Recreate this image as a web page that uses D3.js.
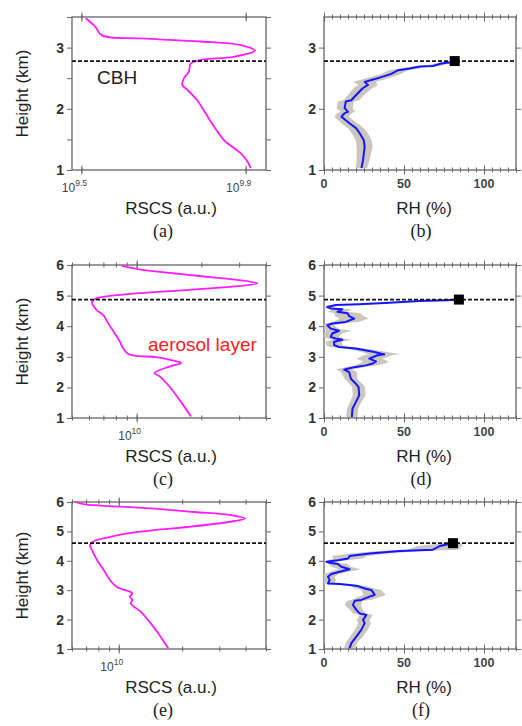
<!DOCTYPE html>
<html>
<head>
<meta charset="utf-8">
<script src="https://cdn.jsdelivr.net/npm/d3@7"></script>
<style>
  body { margin: 0; background: #fff; }
  svg { display: block; font-family: "Liberation Sans", Arial, sans-serif; }
  .lab { font-size: 17px; fill: #222; }
  .tick-y { font-size: 14px; font-weight: bold; fill: #333; }
  .tick-x { font-size: 12.5px; font-weight: bold; fill: #444; }
  .pow { font-size: 12px; fill: #444; }
  .letter { font-family: "Liberation Serif", "Times New Roman", serif; font-size: 18px; fill: #222; }
</style>
</head>
<body>
<svg width="522" height="726"></svg>
<script>
const svg = d3.select('svg');

// ---- data ----
// RSCS profiles (height km, range scaled clear sky signal a.u.)
const heightA = [3.48, 3.34, 3.20, 3.15, 3.10, 3.04, 2.95, 2.85, 2.80, 2.74, 2.61, 2.50, 2.39, 2.31, 2.14, 1.93, 1.71, 1.49, 1.27, 1.14, 1.03];
const rscsA = [3.24e9, 3.42e9, 3.55e9, 4.41e9, 6.17e9, 7.73e9, 8.36e9, 7.43e9, 6.17e9, 5.83e9, 5.78e9, 5.62e9, 5.57e9, 5.73e9, 6.05e9, 6.34e9, 6.65e9, 7.03e9, 7.73e9, 8.02e9, 8.17e9];

const heightC = [5.97, 5.86, 5.73, 5.64, 5.53, 5.40, 5.29, 5.18, 5.08, 4.99, 4.91, 4.80, 4.53, 4.37, 4.10, 3.77, 3.50, 3.28, 3.10, 3.03, 2.99, 2.88, 2.80, 2.68, 2.47, 2.36, 2.03, 1.60, 1.05];
const rscsC = [8.5e9, 1.03e10, 1.47e10, 1.96e10, 2.79e10, 3.64e10, 2.79e10, 1.70e10, 1.03e10, 7.5e9, 6.5e9, 6.2e9, 6.5e9, 6.98e9, 7.36e9, 7.9e9, 8.35e9, 8.64e9, 9.1e9, 9.96e9, 1.23e10, 1.47e10, 1.61e10, 1.42e10, 1.21e10, 1.28e10, 1.42e10, 1.58e10, 1.79e10];

const heightE = [6.00, 5.92, 5.88, 5.78, 5.66, 5.55, 5.44, 5.32, 5.15, 5.04, 4.93, 4.79, 4.68, 4.53, 4.42, 4.02, 3.68, 3.34, 3.11, 3.03, 2.98, 2.89, 2.78, 2.66, 2.55, 2.27, 1.87, 1.42, 1.02];
const rscsE = [6.2e9, 6.9e9, 8.2e9, 1.42e10, 2.29e10, 3.43e10, 3.98e10, 3.31e10, 2.13e10, 1.47e10, 1.10e10, 8.8e9, 7.7e9, 7.3e9, 7.4e9, 7.9e9, 8.5e9, 9.1e9, 9.8e9, 1.04e10, 1.10e10, 1.16e10, 1.13e10, 1.16e10, 1.14e10, 1.27e10, 1.42e10, 1.58e10, 1.72e10];

// RH profiles (height km, RH %, half width of the grey band %)
const heightB = [1.03, 1.16, 1.38, 1.49, 1.60, 1.68, 1.76, 1.87, 1.93, 1.95, 2.01, 2.12, 2.14, 2.23, 2.34, 2.39, 2.44, 2.47, 2.51, 2.57, 2.63, 2.66, 2.69, 2.70, 2.74, 2.77];
const rhB = [23.4, 24.4, 25.4, 24.8, 22.3, 20.2, 16.1, 10.9, 12.9, 15.0, 12.9, 13.6, 17.1, 20.2, 24.4, 27.5, 25.4, 29.6, 34.8, 42.1, 46.3, 53.6, 59.8, 68.1, 73.3, 81.7];
const spreadB = [3.5, 4, 5, 5, 5, 5, 5, 4.5, 4.5, 4.5, 5, 5, 5, 5, 6, 6, 7, 7, 7, 6, 6, 6, 5, 5, 4, 2];

const heightD = [1.03, 1.30, 1.52, 1.74, 2.01, 2.12, 2.28, 2.50, 2.58, 2.61, 2.67, 2.72, 2.78, 2.85, 2.94, 3.05, 3.08, 3.16, 3.27, 3.32, 3.38, 3.49, 3.56, 3.60, 3.65, 3.76, 3.85, 3.92, 4.03, 4.09, 4.14, 4.25, 4.33, 4.42, 4.47, 4.55, 4.58, 4.63, 4.69, 4.72, 4.77, 4.82, 4.85, 4.87];
const rhD = [17.4, 17.8, 19.9, 22.0, 21.6, 19.9, 16.8, 15.7, 12.6, 14.7, 19.9, 26.2, 30.4, 32.5, 28.3, 33.5, 37.7, 31.4, 19.9, 9.4, 6.3, 6.3, 11.5, 7.3, 4.2, 5.2, 9.4, 4.2, 2.1, 5.2, 13.6, 18.9, 15.7, 14.7, 8.4, 11.5, 4.2, 2.1, 7.3, 22.0, 40.9, 59.7, 76.5, 84.3];
const spreadD = [3.5, 3.5, 3.5, 4, 4, 4, 4, 5, 5, 5, 6, 7, 8, 8, 8, 9, 10, 8, 6, 6, 5, 5, 6, 5, 5, 6, 8, 5, 4, 6, 8, 9, 9, 8, 6, 6, 4, 3, 5, 6, 6, 5, 4, 2];

const heightF = [1.03, 1.20, 1.42, 1.65, 1.88, 1.99, 2.16, 2.21, 2.33, 2.50, 2.64, 2.67, 2.78, 2.84, 3.01, 3.06, 3.14, 3.18, 3.21, 3.23, 3.34, 3.46, 3.55, 3.63, 3.71, 3.80, 3.89, 3.93, 3.97, 4.02, 4.08, 4.16, 4.25, 4.33, 4.38, 4.50, 4.56, 4.62];
const rhF = [16.0, 17.1, 20.2, 23.3, 25.4, 24.4, 26.5, 22.3, 20.2, 18.1, 19.2, 23.3, 28.5, 31.7, 29.6, 25.4, 21.3, 16.0, 9.8, 2.5, 3.5, 2.5, 4.6, 9.8, 16.0, 10.8, 8.75, 3.5, 1.5, 8.75, 15.0, 16.0, 28.5, 47.3, 68.1, 72.3, 77.5, 80.6];
const spreadF = [3.5, 3.5, 4, 4, 4, 4, 4, 4, 4, 5, 5, 6, 7, 7, 6, 6, 5, 5, 5, 4, 4, 4, 5, 6, 7, 6, 6, 5, 4, 6, 9, 11, 12, 14, 16, 14, 9, 4];

// cloud base height (km) and RH at cloud base for each case
const cbh = [2.78, 4.87, 4.60];
const rhCbh = [81.7, 84.3, 80.6];

// axis set-up per row
const heightMax = [3.5, 6, 6];
const rscsDomain = [[3.0e9, 8.9e9], [5e9, 4e10], [6e9, 5e10]];
const rscsLabels = [[Math.pow(10, 9.5), Math.pow(10, 9.9)], [1e10], [1e10]];
const rscsPowers = [['9.5', '9.9'], ['10'], ['10']];
const letters = [['(a)', '(b)'], ['(c)', '(d)'], ['(e)', '(f)']];

// pixel layout of the rows
const rowTop = [17, 265, 502];
const rowBottom = [170, 418, 649];
const leftX = [72, 266];
const rightX = [324, 516];

const axisColor = '#666';

const styleAxis = (sel) => {
    sel.select('.domain').remove();
    sel.selectAll('line').attr('stroke', axisColor).attr('stroke-width', 1);
    sel.selectAll('text').remove();
}

// box + ticks on all four sides
const drawFrame = (g, x, y, xTicks, xMajor, yTicks) => {
    const [x0, x1] = x.range();
    const [y0, y1] = y.range();
    // minor ticks cross the top / bottom line
    [1, -1].forEach(s => {
        g.append('g').attr('transform', `translate(0,${y0})`)
            .call(d3.axisBottom(x).tickValues(xTicks).tickSize(2.5 * s)).call(styleAxis);
        g.append('g').attr('transform', `translate(0,${y1})`)
            .call(d3.axisTop(x).tickValues(xTicks).tickSize(2.5 * s)).call(styleAxis);
        g.append('g').attr('transform', `translate(0,${y0})`)
            .call(d3.axisBottom(x).tickValues(xMajor).tickSize(4.5 * s)).call(styleAxis);
        g.append('g').attr('transform', `translate(0,${y1})`)
            .call(d3.axisTop(x).tickValues(xMajor).tickSize(4.5 * s)).call(styleAxis);
    });
    g.append('g').attr('transform', `translate(${x0},0)`)
        .call(d3.axisLeft(y).tickValues(yTicks).tickSize(5)).call(styleAxis);
    g.append('g').attr('transform', `translate(${x1},0)`)
        .call(d3.axisRight(y).tickValues(yTicks).tickSize(5)).call(styleAxis);
    g.append('rect')
        .attr('x', x0).attr('y', y1)
        .attr('width', x1 - x0).attr('height', y0 - y1)
        .attr('fill', 'none').attr('stroke', axisColor).attr('stroke-width', 1.3);
}

const yLabels = (g, x0, y, hMax) => {
    d3.range(1, hMax + 0.01).forEach(v => {
        g.append('text').attr('class', 'tick-y')
            .attr('x', x0 - 8).attr('y', y(v) + 5)
            .attr('text-anchor', 'end').text(v);
    });
}

const cbhLine = (g, x, yPos) => {
    g.append('line')
        .attr('x1', x.range()[0]).attr('x2', x.range()[1])
        .attr('y1', yPos).attr('y2', yPos)
        .attr('stroke', '#111').attr('stroke-width', 1.8)
        .attr('stroke-dasharray', '4,2');
}

// left column: RSCS profiles
const drawRscs = (row, heights, values) => {
    const g = svg.append('g');
    const y = d3.scaleLinear().domain([1, heightMax[row]]).range([rowBottom[row], rowTop[row]]);
    const x = d3.scaleLog().domain(rscsDomain[row]).range(leftX);

    let minor = [];
    if (row == 0) {
        minor = rscsLabels[row];
    } else {
        [1e9, 1e10].forEach(dec => d3.range(1, 10).forEach(m => {
            const v = m * dec;
            if (v >= rscsDomain[row][0] && v <= rscsDomain[row][1]) minor.push(v);
        }));
    }
    const yTicks = row == 0 ? [1, 1.5, 2, 2.5, 3, 3.5] : d3.range(1, heightMax[row] + 0.01);
    drawFrame(g, x, y, minor, rscsLabels[row], yTicks);
    yLabels(g, leftX[0], y, heightMax[row]);

    // 10^n tick labels
    rscsLabels[row].forEach((v, i) => {
        const t = g.append('text').attr('class', 'pow')
            .attr('x', x(v) - 7).attr('y', rowBottom[row] + 22)
            .attr('text-anchor', 'middle');
        t.append('tspan').text('10');
        t.append('tspan').attr('dy', -6).attr('font-size', 8.5).text(rscsPowers[row][i]);
    });

    const line = d3.line()
        .x((d, i) => x(values[i]))
        .y(d => y(d))
        .curve(d3.curveCatmullRom.alpha(0.5));
    g.append('path')
        .attr('d', line(heights))
        .attr('fill', 'none')
        .attr('stroke', '#ff1cff')
        .attr('stroke-width', 1.8);

    cbhLine(g, x, y(cbh[row]));

    g.append('text').attr('class', 'lab')
        .attr('x', (leftX[0] + leftX[1]) / 2 + 2).attr('y', rowBottom[row] + 44)
        .attr('text-anchor', 'middle').text('RSCS (a.u.)');
    g.append('text').attr('class', 'lab')
        .attr('transform', `translate(28,${(rowTop[row] + rowBottom[row]) / 2}) rotate(-90)`)
        .attr('text-anchor', 'middle').attr('font-size', 19).text('Height (km)');
    g.append('text').attr('class', 'letter')
        .attr('x', 163).attr('y', rowBottom[row] + 67)
        .attr('text-anchor', 'middle').text(letters[row][0]);
    return { x, y, g };
}

// right column: RH profiles with grey spread
const drawRh = (row, heights, rh, spread) => {
    const g = svg.append('g');
    const y = d3.scaleLinear().domain([1, heightMax[row]]).range([rowBottom[row], rowTop[row]]);
    const x = d3.scaleLinear().domain([0, 120]).range(rightX);

    drawFrame(g, x, y, d3.range(0, 121, 5), [0, 50, 100], d3.range(1, heightMax[row] + 0.01));
    yLabels(g, rightX[0], y, heightMax[row]);

    [0, 50, 100].forEach(v => {
        g.append('text').attr('class', 'tick-x')
            .attr('x', x(v)).attr('y', rowBottom[row] + 18)
            .attr('text-anchor', 'middle').text(v);
    });

    const band = d3.area()
        .y((d, i) => y(heights[i]))
        .x0((d, i) => x(Math.max(0, rh[i] - spread[i])))
        .x1((d, i) => x(rh[i] + spread[i]))
        .curve(d3.curveLinear);
    g.append('path')
        .attr('d', band(heights))
        .attr('fill', '#cbc7bf');

    const line = d3.line()
        .x((d, i) => x(rh[i]))
        .y(d => y(d));
    g.append('path')
        .attr('d', line(heights))
        .attr('fill', 'none')
        .attr('stroke', '#1414ff')
        .attr('stroke-width', 2)
        .attr('stroke-linejoin', 'round');

    cbhLine(g, x, y(cbh[row]));

    g.append('rect')
        .attr('x', x(rhCbh[row]) - 5).attr('y', y(cbh[row]) - 5)
        .attr('width', 10).attr('height', 10)
        .attr('fill', '#000');

    g.append('text').attr('class', 'lab')
        .attr('x', 424).attr('y', rowBottom[row] + 44)
        .attr('text-anchor', 'middle').text('RH (%)');
    g.append('text').attr('class', 'letter')
        .attr('x', 421).attr('y', rowBottom[row] + 67)
        .attr('text-anchor', 'middle').text(letters[row][1]);
}

const a = drawRscs(0, heightA, rscsA);
const c = drawRscs(1, heightC, rscsC);
drawRscs(2, heightE, rscsE);
drawRh(0, heightB, rhB, spreadB);
drawRh(1, heightD, rhD, spreadD);
drawRh(2, heightF, rhF, spreadF);

// annotations
a.g.append('text')
    .attr('x', 97).attr('y', a.y(cbh[0]) + 23)
    .attr('font-size', 19).attr('fill', '#222').text('CBH');
c.g.append('text')
    .attr('x', 148).attr('y', c.y(3.2))
    .attr('font-size', 19).attr('fill', '#ff2020').text('aerosol layer');
</script>
</body>
</html>
